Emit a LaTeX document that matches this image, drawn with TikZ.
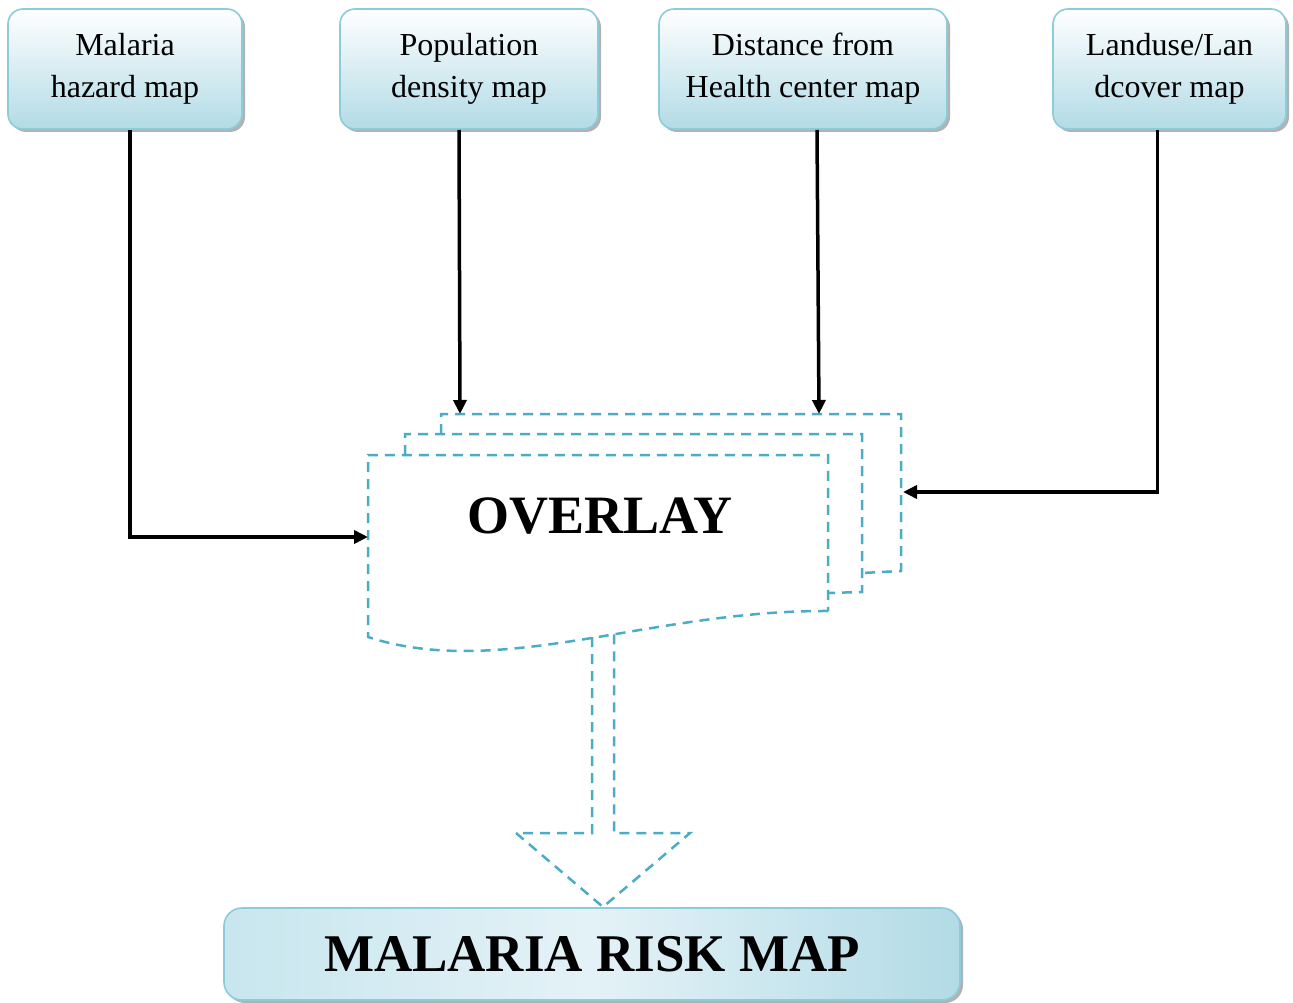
\documentclass[tikz,border=0pt]{standalone}
\usepackage{fontspec}
\setmainfont{Liberation Serif}
\usepackage{tikz}
\usetikzlibrary{shapes,arrows.meta,shadows,positioning}
\definecolor{boxline}{RGB}{140,203,218}
\definecolor{boxblue}{RGB}{178,219,230}
\definecolor{boxmid}{RGB}{200,230,238}
\definecolor{boxlight}{RGB}{228,242,247}
\definecolor{dashblue}{RGB}{75,172,198}
\tikzset{
  mapbox/.style={draw=boxline, line width=1.6pt, rounded corners=15pt,
    top color=white, bottom color=boxblue, align=center,
    minimum height=120pt, inner sep=2pt,
    font=\fontsize{32}{42}\selectfont,
    drop shadow={shadow xshift=3pt, shadow yshift=-3pt, fill=gray!60, opacity=1}},
  page/.style={draw=dashblue, line width=2.5pt, dash pattern=on 10pt off 7pt},
  flow/.style={->, line width=3.5pt}
}

\begin{document}
\begin{tikzpicture}[> = {Triangle[length=14pt,width=13pt]}, x=1pt, y=-1pt]
        \useasboundingbox (0,0) rectangle (1293,1003);

        % input maps
        \node[mapbox, minimum width=234pt] (hazard)  at (125,69)    {Malaria\\hazard map};
        \node[mapbox, minimum width=258pt] (popden)  at (469,69)    {Population\\density map};
        \node[mapbox, minimum width=288pt] (dist)    at (803,69)    {Distance from\\Health center map};
        \node[mapbox, minimum width=233pt] (landuse) at (1169.5,69) {Landuse/Lan\\dcover map};

        % stacked pages
        \draw[page] (441,434) -- (441,414) -- (901,414) -- (901,571) -- (862,573);
        \draw[page] (405,455) -- (405,434) -- (862,434) -- (862,592) -- (828,593);
        \draw[page] (828,611) .. controls (650,610) and (500,680) .. (368,637)
                    -- (368,455) -- (828,455) -- cycle;
        \node[font=\fontsize{54}{60}\selectfont\bfseries] (ovl) at (600,516) {OVERLAY};

        \coordinate (ovlW) at (368,537);
        \coordinate (ovlE) at (903,492);
        \coordinate (ovlN1) at (460,414);
        \coordinate (ovlN2) at (819,414);

        % result
        \node[mapbox, minimum width=736pt, minimum height=92pt, rounded corners=18pt,
              left color=boxmid, right color=boxblue, middle color=boxlight,
              font=\fontsize{53}{60}\selectfont\bfseries] (risk) at (592,954) {MALARIA RISK MAP};
        \coordinate (tip) at (603,907);

        % big arrow
        \draw[page] (592,637) -- (592,833) -- (516,833) -- (tip) -- (690,833)
                    -- (614,833) -- (614,634);

        \draw[flow] ([xshift=5pt]hazard.south)    |- (ovlW);
        \draw[flow] ([xshift=-10pt]popden.south)  -- (ovlN1);
        \draw[flow] ([xshift=14pt]dist.south)     -- (ovlN2);
        \draw[flow] ([xshift=-12pt]landuse.south) |- (ovlE);
\end{tikzpicture}
\end{document}
